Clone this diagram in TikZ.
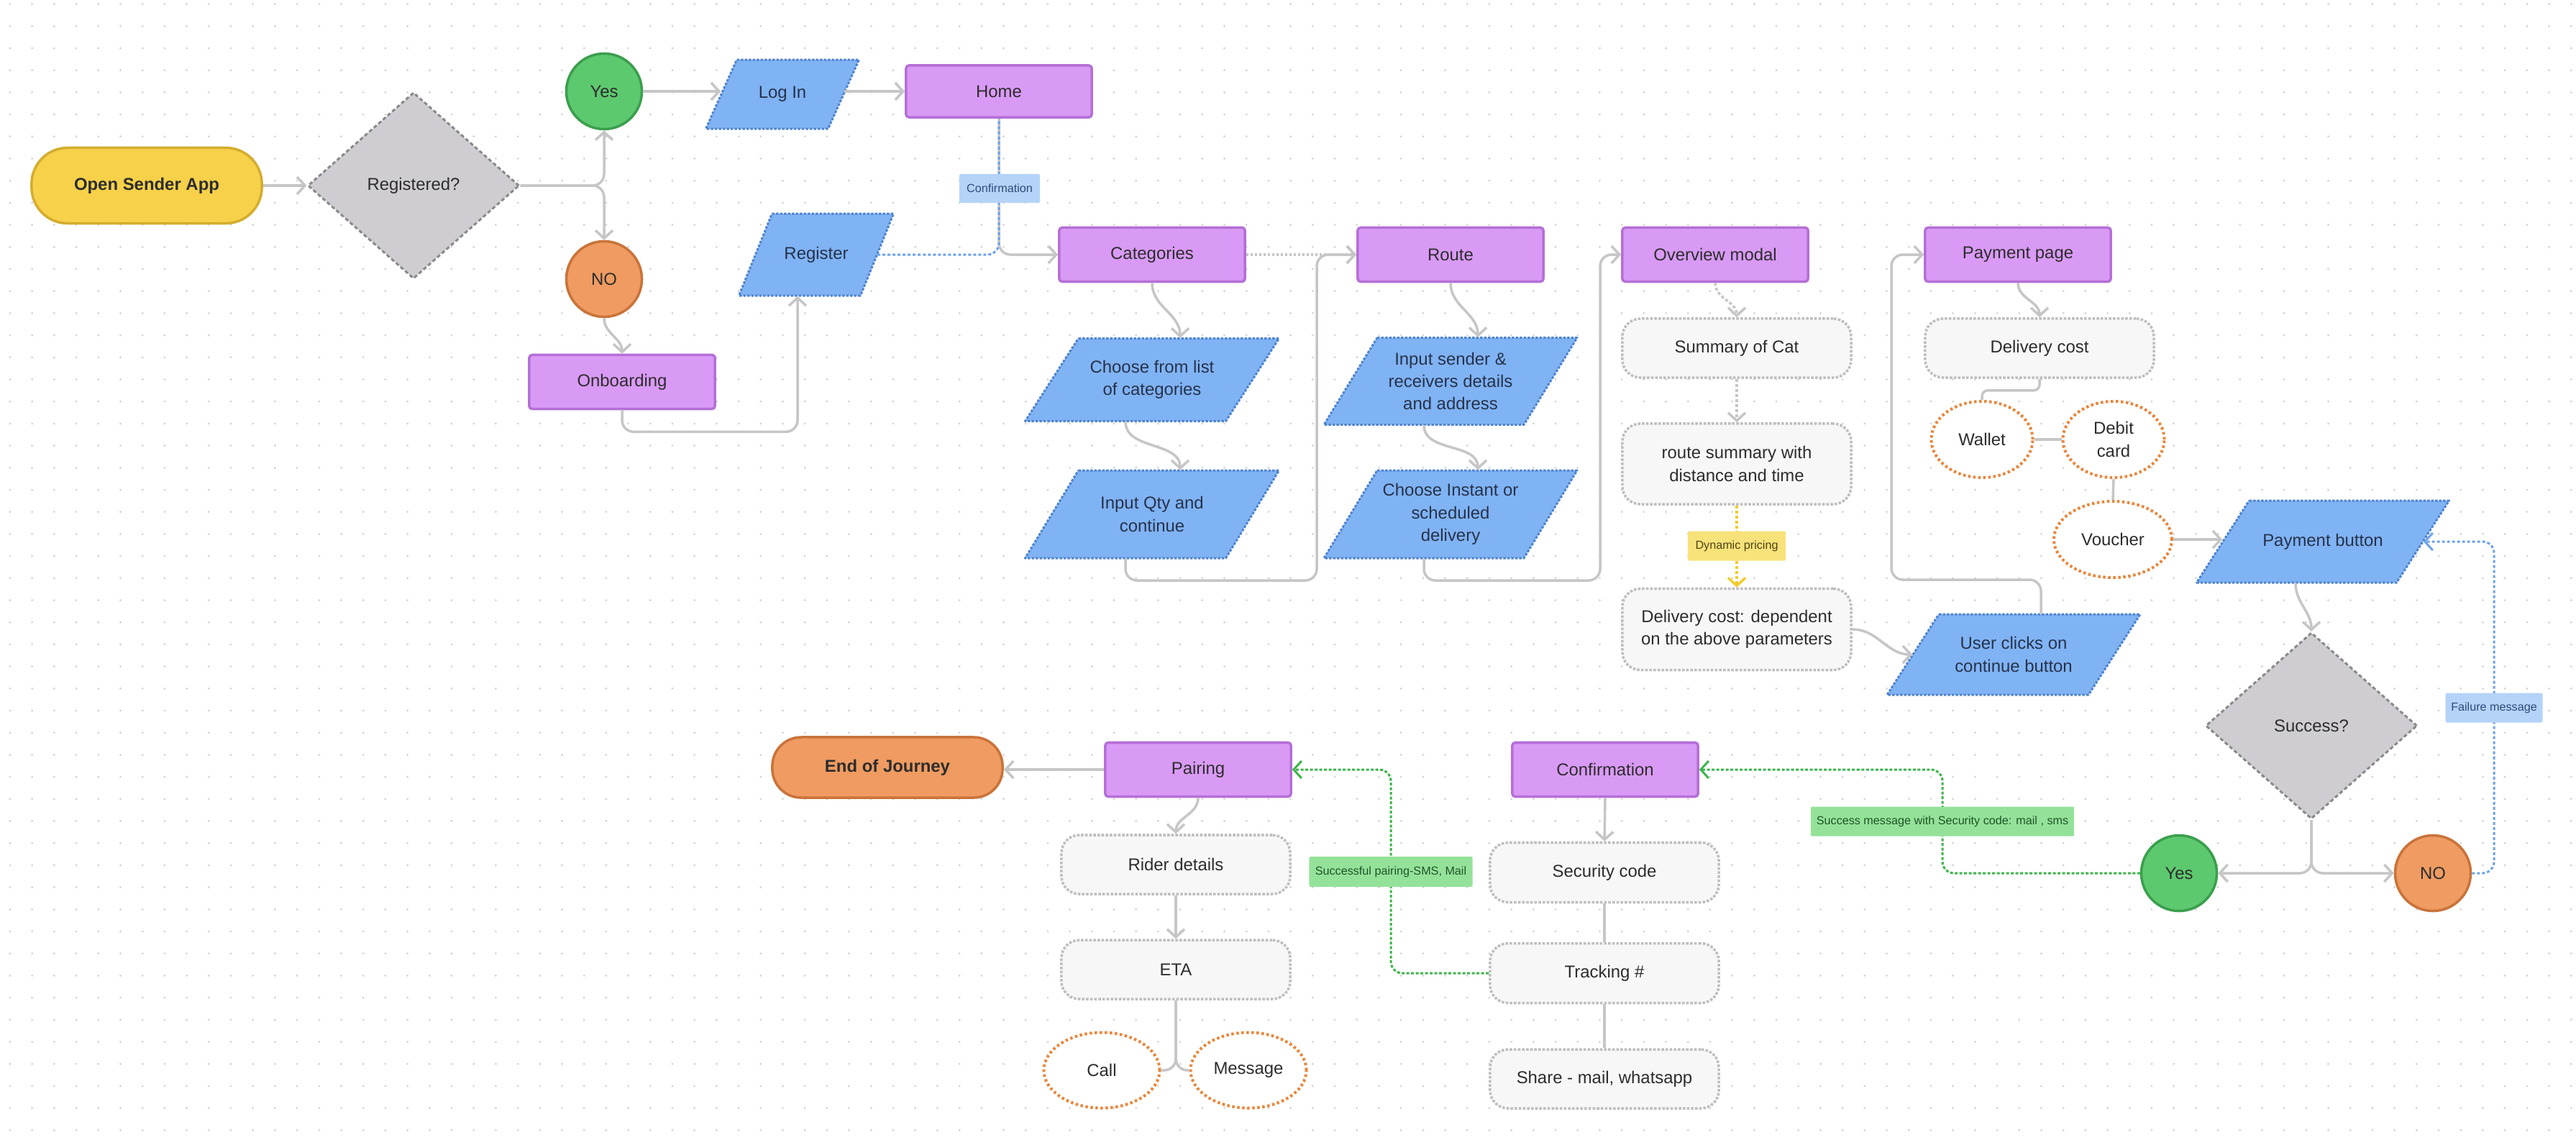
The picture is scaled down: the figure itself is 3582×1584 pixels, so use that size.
\documentclass[tikz,border=0pt]{standalone}
\usepackage{fontspec}
\setmainfont{Liberation Sans}
\usetikzlibrary{arrows.meta,shapes.geometric,calc}

\definecolor{purpf}{HTML}{D99AF5}
\definecolor{purpd}{HTML}{B56FD6}
\definecolor{bluef}{HTML}{80B3F4}
\definecolor{blued}{HTML}{4F84CF}
\definecolor{diaf}{HTML}{CFCDD1}
\definecolor{diad}{HTML}{8A8A8A}
\definecolor{gboxf}{HTML}{F7F7F7}
\definecolor{gboxd}{HTML}{BEBEBE}
\definecolor{greenf}{HTML}{5DC96F}
\definecolor{greend}{HTML}{3B9E4D}
\definecolor{orangef}{HTML}{EF9B61}
\definecolor{oranged}{HTML}{C9733A}
\definecolor{yellowf}{HTML}{F7D149}
\definecolor{yellowd}{HTML}{D4AD2F}
\definecolor{odotc}{HTML}{E8863C}
\definecolor{lblb}{HTML}{B5D3F8}
\definecolor{lblbt}{HTML}{2E4C7C}
\definecolor{lbly}{HTML}{F8E27A}
\definecolor{lblyt}{HTML}{4F4413}
\definecolor{lblg}{HTML}{94E29A}
\definecolor{lblgt}{HTML}{1E5526}
\definecolor{cline}{HTML}{C6C6C6}
\definecolor{cgreen}{HTML}{3DB54C}
\definecolor{cblue}{HTML}{6DA2EC}
\definecolor{cyel}{HTML}{F2CC2E}
\definecolor{ctext}{HTML}{2C2C2C}
\definecolor{cbtext}{HTML}{25324A}
\definecolor{dotc}{HTML}{D4D4D4}

\newcommand\myfs{\fontsize{6.8pt}{8.9pt}\selectfont}
\newcommand\myfsb{\fontsize{6.8pt}{8.9pt}\selectfont\bfseries}
\newcommand\lblfs{\fontsize{4.6pt}{5.5pt}\selectfont}

\tikzset{
  txtbase/.style={font=\myfs, text=ctext, inner sep=0pt, align=center},
  purp/.style={txtbase, draw=purpd, fill=purpf, line width=0.035cm, rounded corners=0.04cm, minimum width=2.58cm, minimum height=0.75cm},
  gbox/.style={txtbase, draw=gboxd, fill=gboxf, line width=0.035cm, dash pattern=on 0.035cm off 0.022cm, rounded corners=0.25cm, minimum width=3.18cm, minimum height=0.82cm},
  odot/.style={txtbase, ellipse, draw=odotc, fill=white, line width=0.04cm, dash pattern=on 0.035cm off 0.035cm, minimum width=1.41cm, minimum height=1.06cm},
  dia/.style={txtbase, diamond, fill=diaf, draw=diad, line width=0.03cm, dash pattern=on 0.05cm off 0.035cm, minimum width=2.94cm, minimum height=2.59cm},
  yesc/.style={txtbase, circle, fill=greenf, draw=greend, line width=0.035cm, minimum size=1.05cm},
  noc/.style={txtbase, circle, fill=orangef, draw=oranged, line width=0.035cm, minimum size=1.05cm},
  stad/.style={txtbase, font=\myfsb, line width=0.035cm, minimum width=3.2cm},
  lbl/.style={font=\lblfs, inner sep=0pt, minimum height=0.41cm, rounded corners=0.02cm},
  parabox/.style={draw=blued, fill=bluef, line width=0.03cm, dash pattern=on 0.035cm off 0.02cm, line join=round},
  ptext/.style={txtbase, text=cbtext},
  conn/.style={draw=cline, line width=0.035cm, rounded corners=0.16cm},
  arr/.style={conn, -{Straight Barb[length=0.11cm,width=0.24cm]}},
  gdash/.style={arr, dash pattern=on 0.04cm off 0.03cm},
  ydash/.style={arr, draw=cyel, dash pattern=on 0.04cm off 0.03cm},
  cdot/.style={arr, dash pattern=on 0.03cm off 0.03cm},
  grn/.style={draw=cgreen, line width=0.03cm, rounded corners=0.16cm, dash pattern=on 0.04cm off 0.025cm, -{Straight Barb[length=0.11cm,width=0.24cm]}},
  bdash/.style={draw=cblue, line width=0.03cm, rounded corners=0.16cm, dash pattern=on 0.04cm off 0.03cm},
}

% name, cx, cy(px, downward), side, height, offset, text
\newcommand\paranode[7]{%
  \draw[parabox] (#2-#4/2+#6/2, -#3+#5/2) -- ++(#4,0) -- ++(-#6,-#5) -- ++(-#4,0) -- cycle;
  \node[ptext, minimum width=#4*0.01cm, minimum height=#5*0.01cm] (#1) at (#2,-#3) {#7};
}

\begin{document}
\begin{tikzpicture}[x=0.01cm,y=0.01cm]
\useasboundingbox (0,0) rectangle (3582,-1584);
\fill[white] (0,0) rectangle (3582,-1584);
\foreach \i in {0,...,116}{\foreach \j in {0,...,51}{\fill[dotc] (14+\i*30.7,-5.6-\j*30.7) circle (0.016cm);}}

% ---------- nodes ----------
\node[stad, fill=yellowf, draw=yellowd, minimum height=1.05cm, rounded corners=0.5cm] (open) at (204,-258) {Open Sender App};
\node[dia] (reg) at (575,-258) {Registered?};
\node[yesc] (yes1) at (840,-127) {Yes};
\node[noc] (no1) at (840,-388) {NO};
\node[purp] (onb) at (865,-531) {Onboarding};
\paranode{login}{1088}{131}{170}{96}{43}{Log In}
\paranode{register}{1135}{354}{169}{114}{46}{Register}
\node[purp, minimum height=0.72cm] (home) at (1389,-127) {Home};
\node[purp] (cat) at (1602,-354) {Categories};
\node[purp] (route) at (2017,-354) {Route};
\node[purp] (over) at (2385,-354) {Overview modal};
\node[purp] (pp) at (2806,-354) {Payment page};
\paranode{ch1}{1602}{528}{279}{115}{74}{Choose from list\\of categories}
\paranode{ch2}{1602}{715}{279}{122}{74}{Input Qty and\\continue}
\paranode{in1}{2017}{530}{278}{121}{74}{Input sender \&\\receivers details\\and address}
\paranode{in2}{2017}{715}{278}{122}{74}{Choose Instant or\\scheduled\\delivery}
\node[gbox] (sum) at (2415,-484) {Summary of Cat};
\node[gbox, minimum height=1.12cm] (rsum) at (2415,-645) {route summary with\\distance and time};
\node[gbox, minimum height=1.13cm] (dcost) at (2415,-875) {Delivery cost: dependent\\on the above parameters};
\paranode{uc}{2800}{910}{280}{112}{72}{User clicks on\\continue button}
\node[gbox] (pcost) at (2836,-484) {Delivery cost};
\node[odot] (wallet) at (2756,-611) {Wallet};
\node[odot] (debit) at (2939,-611) {Debit\\card};
\node[odot, minimum width=1.64cm] (voucher) at (2938,-750) {Voucher};
\paranode{pbtn}{3230}{753}{278}{114}{73}{Payment button}
\node[dia] (succ) at (3214,-1009) {Success?};
\node[yesc] (yes2) at (3030,-1214) {Yes};
\node[noc] (no2) at (3383,-1214) {NO};
\node[stad, fill=orangef, draw=oranged, minimum height=0.84cm, rounded corners=0.4cm] (endj) at (1234,-1067) {End of Journey};
\node[purp] (pair) at (1666,-1070) {Pairing};
\node[purp] (conf) at (2232,-1070) {Confirmation};
\node[gbox] (rider) at (1635,-1202) {Rider details};
\node[gbox] (eta) at (1635,-1348) {ETA};
\node[odot, minimum width=1.61cm, minimum height=1.05cm] (call) at (1532,-1488) {Call};
\node[odot, minimum width=1.61cm, minimum height=1.05cm] (msg) at (1736,-1488) {Message};
\node[gbox, minimum height=0.83cm] (sec) at (2231,-1213) {Security code};
\node[gbox, minimum height=0.83cm] (track) at (2231,-1353) {Tracking \#};
\node[gbox] (share) at (2231,-1500) {Share - mail, whatsapp};

\coordinate (b1) at (1831,-807);
\coordinate (b2) at (2225,-807);
\coordinate (b3) at (2630,-806);
\coordinate (b4) at (3468,-1214);
\coordinate (b5) at (2701,-1214);
\coordinate (b6) at (1934,-1353);

% ---------- connectors ----------
\draw[arr] (open.east) -- (reg.west);
\draw[arr] (reg.east) -| (yes1.south);
\draw[arr] (reg.east) -| (no1.north);
\draw[arr] (no1.south) to[out=-90,in=90] (onb.north);
\draw[arr] (onb.south) -- ++(0,-30) -| ([xshift=-0.26cm]register.south);
\draw[arr] (yes1.east) -- (yes1.east -| login.west);
\draw[arr] (login.east |- home.west) -- (home.west);
\draw[arr] (home.south) |- (cat.west);
\draw[bdash] (register.east) -| (home.south);
\draw[cdot] (cat.east) -- (route.west);
\draw[arr] (cat.south) to[out=-90,in=90] ([xshift=0.39cm]ch1.north);
\draw[arr] ([xshift=-0.37cm]ch1.south) to[out=-90,in=90] ([xshift=0.39cm]ch2.north);
\draw[arr] ([xshift=-0.37cm]ch2.south) |- (b1) |- (route.west);
\draw[arr] (route.south) to[out=-90,in=90] ([xshift=0.38cm]in1.north);
\draw[arr] ([xshift=-0.37cm]in1.south) to[out=-90,in=90] ([xshift=0.38cm]in2.north);
\draw[arr] ([xshift=-0.37cm]in2.south) |- (b2) |- (over.west);
\draw[gdash] (over.south) to[out=-90,in=90] (sum.north);
\draw[gdash] (sum.south) -- (rsum.north);
\draw[ydash] (rsum.south) -- (dcost.north);
\draw[arr] (dcost.east) to[out=0,in=180] (uc.west);
\draw[arr] ([xshift=0.38cm]uc.north) |- (b3) |- (pp.west);
\draw[arr] (pp.south) to[out=-90,in=90] (pcost.north);
\draw[conn, rounded corners=0.08cm] (pcost.south) -- ++(0,-16) -| (wallet.north);
\draw[conn] (wallet.east) -- (debit.west);
\draw[conn] (debit.south) -- (voucher.north);
\draw[arr] (voucher.east) -- (voucher.east -| pbtn.west);
\draw[arr] ([xshift=-0.38cm]pbtn.south) to[out=-90,in=90] (succ.north);
\draw[arr] (succ.south) |- (yes2.east);
\draw[arr] (succ.south) |- (no2.west);
\draw[bdash, -{Straight Barb[length=0.11cm,width=0.24cm]}] (no2.east) -- (b4) |- (pbtn.east);
\draw[grn] (yes2.west) -- (b5) |- (conf.east);
\draw[arr] (conf.south) -- (sec.north);
\draw[conn] (sec.south) -- (track.north);
\draw[conn] (track.south) -- (share.north);
\draw[grn] (track.west) -- (b6) |- (pair.east);
\draw[arr] (pair.west) -- (pair.west -| endj.east);
\draw[arr] (pair.south) to[out=-90,in=90] (rider.north);
\draw[arr] (rider.south) -- (eta.north);
\draw[conn] (eta.south) |- (call.east);
\draw[conn] (eta.south) |- (msg.west);

% ---------- labels ----------
\node[lbl, fill=lblb, text=lblbt, minimum width=1.12cm, minimum height=0.40cm] (lconf) at (1390,-262) {Confirmation};
\node[lbl, fill=lbly, text=lblyt, minimum width=1.36cm] (ldyn) at (2415,-759) {Dynamic pricing};
\node[lbl, fill=lblb, text=lblbt, minimum width=1.35cm] (lfail) at (3468,-984) {Failure message};
\node[lbl, fill=lblg, text=lblgt, minimum width=3.66cm] (lsucc) at (2701,-1142) {Success message with Security code: mail , sms};
\node[lbl, fill=lblg, text=lblgt, minimum width=2.27cm, minimum height=0.42cm] (lpair) at (1934,-1212) {Successful pairing-SMS, Mail};
\end{tikzpicture}
\end{document}
